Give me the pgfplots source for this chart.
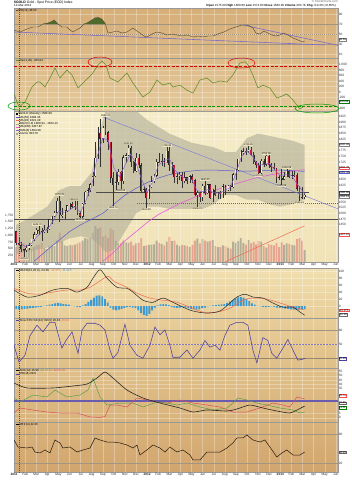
\documentclass[border=0pt]{standalone}
\usepackage{pgfplots}
\pgfplotsset{compat=1.18}
\usepackage{pgfplotstable}
\usepackage{fontspec}
\setmainfont{Liberation Sans}

\definecolor{p1top}{HTML}{D6AE78}\definecolor{p1bot}{HTML}{DCBA88}
\definecolor{p2top}{HTML}{DCBA88}\definecolor{p2bot}{HTML}{E4C89A}
\definecolor{p3top}{HTML}{F5ECC8}\definecolor{p3bot}{HTML}{F1E3B8}
\definecolor{p4top}{HTML}{F1E0B0}\definecolor{p4bot}{HTML}{E8CD98}
\definecolor{p5top}{HTML}{E8CD98}\definecolor{p5bot}{HTML}{E0BF88}
\definecolor{p6top}{HTML}{E0BF88}\definecolor{p6bot}{HTML}{D9B37C}
\definecolor{p7top}{HTML}{D9B37C}\definecolor{p7bot}{HTML}{D2A56E}
\definecolor{rsiline}{HTML}{5A4E38}\definecolor{rsigreen}{HTML}{4E6B2A}
\definecolor{trendpurple}{HTML}{7466D0}\definecolor{oscgreen}{HTML}{5E8C2A}
\definecolor{candlered}{HTML}{C41E3A}\definecolor{candlecream}{HTML}{F5ECC8}
\definecolor{bbfill}{HTML}{A9A691}\definecolor{ma50}{HTML}{5A5AD0}
\definecolor{ma200}{HTML}{E45CD8}\definecolor{ema5}{HTML}{8A62D0}
\definecolor{volgrey}{HTML}{ABA592}\definecolor{volred}{HTML}{E59A8A}
\definecolor{histblue}{HTML}{3C9AD2}\definecolor{sigred}{HTML}{EE6A50}
\definecolor{stopurple}{HTML}{4E3EA0}\definecolor{refgrey}{HTML}{A09482}
\definecolor{adxgreen}{HTML}{5E9E48}\definecolor{adxred}{HTML}{D8505C}

\newcommand{\tl}{\fontsize{3.2}{3.6}\selectfont}
\newcommand{\lgf}{\fontsize{2.9}{3.3}\selectfont}

\pgfplotstableread{
x o h l c v
0.20 1421 1424 1363 1369 560
0.43 1369 1393 1360 1360 560
0.66 1360 1376 1330 1343 620
0.89 1343 1345 1309 1338 700
1.12 1338 1360 1330 1349 520
1.35 1349 1372 1340 1360 480
1.58 1360 1390 1355 1388 500
1.81 1388 1417 1380 1409 560
2.04 1409 1437 1406 1429 640
2.27 1429 1445 1405 1421 650
2.50 1421 1437 1381 1418 720
2.73 1418 1448 1416 1428 520
2.96 1428 1440 1415 1431 480
3.19 1431 1476 1428 1474 600
3.42 1474 1490 1455 1486 620
3.65 1486 1509 1485 1504 600
3.88 1504 1569 1503 1556 800
4.11 1556 1575 1462 1491 1100
4.34 1491 1522 1480 1493 780
4.57 1493 1515 1475 1510 620
4.80 1510 1537 1508 1536 600
5.03 1536 1545 1520 1542 640
5.26 1542 1549 1525 1529 620
5.49 1529 1556 1515 1539 650
5.72 1539 1556 1495 1501 700
5.95 1501 1510 1478 1486 740
6.18 1486 1545 1482 1542 800
6.41 1542 1597 1540 1594 900
6.64 1594 1610 1576 1602 880
6.87 1602 1632 1594 1628 900
7.10 1628 1682 1620 1663 1100
7.33 1663 1815 1660 1743 1350
7.56 1743 1881 1740 1852 1250
7.79 1852 1912 1705 1828 1300
8.02 1828 1885 1810 1876 950
8.25 1876 1923 1845 1856 1000
8.48 1856 1862 1777 1813 900
8.71 1813 1815 1635 1657 1250
8.94 1657 1680 1532 1624 1200
9.17 1624 1680 1604 1636 800
9.40 1636 1695 1625 1682 700
9.63 1682 1688 1605 1642 720
9.86 1642 1758 1630 1746 800
10.09 1746 1764 1723 1755 740
10.32 1755 1802 1750 1788 720
10.55 1788 1796 1705 1725 760
10.78 1725 1730 1677 1686 620
11.01 1686 1763 1680 1745 700
11.24 1745 1761 1700 1711 720
11.47 1711 1722 1588 1598 900
11.70 1598 1620 1589 1606 600
11.93 1606 1610 1523 1566 620
12.16 1566 1625 1565 1616 640
12.39 1616 1663 1610 1640 650
12.62 1640 1675 1632 1666 660
12.85 1666 1737 1660 1726 800
13.08 1726 1765 1720 1722 720
13.31 1722 1760 1708 1728 680
13.54 1728 1745 1702 1724 620
13.77 1724 1790 1722 1774 760
14.00 1774 1791 1688 1711 940
14.23 1711 1724 1673 1713 780
14.46 1713 1714 1635 1659 800
14.69 1659 1679 1628 1662 650
14.92 1662 1680 1647 1669 600
15.15 1669 1680 1612 1641 640
15.38 1641 1680 1634 1658 620
15.61 1658 1660 1627 1642 600
15.84 1642 1668 1635 1663 560
16.07 1663 1672 1632 1645 640
16.30 1645 1650 1577 1580 800
16.53 1580 1597 1527 1591 880
16.76 1591 1595 1549 1572 700
16.99 1572 1627 1555 1622 860
17.22 1622 1640 1581 1590 800
17.45 1590 1629 1584 1627 760
17.68 1627 1628 1562 1566 780
17.91 1566 1605 1548 1604 820
18.14 1604 1625 1575 1580 600
18.37 1580 1595 1564 1590 560
18.60 1590 1597 1565 1583 560
18.83 1583 1627 1568 1619 620
19.06 1619 1623 1582 1603 600
19.29 1603 1626 1598 1620 540
19.52 1620 1625 1598 1616 500
19.75 1616 1678 1612 1672 760
19.98 1672 1693 1648 1691 720
20.21 1691 1740 1685 1739 780
20.44 1739 1777 1726 1769 900
20.67 1769 1788 1755 1773 720
20.90 1773 1787 1755 1770 650
21.13 1770 1796 1765 1780 820
21.36 1780 1790 1750 1758 700
21.59 1758 1770 1718 1724 750
21.82 1724 1730 1700 1712 660
22.05 1712 1720 1672 1676 780
22.28 1676 1737 1674 1731 760
22.51 1731 1738 1705 1714 600
22.74 1714 1754 1707 1752 540
22.97 1752 1755 1700 1712 680
23.20 1712 1723 1683 1704 640
23.43 1704 1720 1690 1697 620
23.66 1697 1698 1635 1658 720
23.89 1658 1670 1647 1655 560
24.12 1655 1694 1626 1648 740
24.35 1648 1680 1645 1662 640
24.58 1662 1694 1660 1687 700
24.81 1687 1692 1655 1658 680
25.04 1658 1685 1650 1667 640
25.27 1667 1684 1660 1670 620
25.50 1670 1676 1600 1609 860
25.73 1609 1620 1554 1573 900
25.96 1573 1618 1565 1570 800
26.19 1570 1590 1562 1582 450
}\gold

\pgfplotsset{
  panel/.style={
    scale only axis, width=324pt, xmin=0, xmax=29.2, anchor=north west,
    axis line style={draw=black!40, line width=0.35pt},
    xtick={0,...,29}, xticklabels={}, major tick length=0pt,
    grid=major, grid style={draw=white, opacity=0.3, line width=0.3pt},
    yticklabel pos=right,
    yticklabel style={font=\tl, inner sep=0.6pt, text=black!80},
    /pgf/number format/assume math mode=true,
    /pgf/number format/1000 sep={},
    every axis plot/.append style={mark=none},
  },
  months/.style={
    xticklabels={{\textbf{2011}},Feb,Mar,Apr,May,Jun,Jul,Aug,Sep,Oct,Nov,Dec,{\textbf{2012}},Feb,Mar,Apr,May,Jun,Jul,Aug,Sep,Oct,Nov,Dec,{\textbf{2013}},Feb,Mar,Apr,May,Jun},
    xticklabel style={font=\tl, inner sep=0.8pt, text=black!85},
  },
}
\newcommand{\gline}[2]{\addplot[draw=green!55!black, dash pattern=on 1pt off 1pt, line width=0.3pt] coordinates {(0.45,#1)(0.45,#2)};}

\begin{document}
\begin{tikzpicture}
\useasboundingbox (0,0) rectangle (352pt,-480pt);
\fill[white] (0,0) rectangle (352pt,-480pt);

% header
\node[anchor=north west, font=\fontsize{3.4}{4}\selectfont, inner sep=0] at (14pt,-0.6pt) {\textbf{\$GOLD} Gold - Spot Price (EOD) Index};
\node[anchor=north west, font=\fontsize{3}{3.4}\selectfont, inner sep=0] at (14pt,-4.2pt) {12-Mar-2013};
\node[anchor=north east, font=\fontsize{3}{3.4}\selectfont, inner sep=0, text=black!60] at (338pt,-0.6pt) {\copyright\ StockCharts.com};
\node[anchor=north east, font=\fontsize{3}{3.4}\selectfont, inner sep=0] at (336pt,-4.2pt) {\textbf{Open} 1575.00 \textbf{High} 1600.80 \textbf{Low} 1574.80 \textbf{Close} 1586.90 \textbf{Volume} 303.7K \textbf{Chg} +10.30 (+0.65\%)};

% ---------- Panel 1: RSI
\begin{axis}[panel, at={(14pt,-8pt)}, height=50pt, ymin=2, ymax=102, ytick={10,30,50,70,90},
  axis background/.style={top color=p1top, bottom color=p1bot}]
\addplot[draw=refgrey, line width=0.5pt] coordinates {(0,70)(29.2,70)};
\addplot[draw=refgrey, line width=0.5pt] coordinates {(0,30)(29.2,30)};
\addplot[draw=refgrey, dash pattern=on 1pt off 1pt, line width=0.3pt] coordinates {(0,50)(29.2,50)};
\addplot[fill=rsigreen, draw=none] coordinates {(2.61,70)(3.06,72)(3.42,75)(3.6,78)(3.96,70)} -- cycle;
\addplot[fill=rsigreen, draw=none] coordinates {(6.31,70)(6.58,72)(7.03,78)(7.3,82)(7.6,83)(7.9,80)(8.2,72)(8.227,70)} -- cycle;
\addplot[draw=trendpurple, line width=0.55pt] coordinates {(0,54)(28,28)};
\addplot[draw=trendpurple, line width=0.55pt] coordinates {(20.6,68)(30.3,22)};
\addplot[draw=rsiline, line width=0.45pt] coordinates {(0,58)(0.54,54)(1.17,60)(1.71,64)(2.16,64)(2.61,70)(3.06,72)(3.42,75)(3.6,78)(3.96,70)(4.32,64)(4.77,64)(5.05,58)(5.32,54)(5.59,58)(5.95,62)(6.31,70)(6.58,72)(7.03,78)(7.3,82)(7.6,83)(7.9,80)(8.2,72)(8.47,52)(8.92,54)(9.28,56)(9.73,52)(10.18,54)(10.72,62)(11.08,56)(11.35,52)(11.71,46)(11.98,44)(12.43,50)(12.88,54)(13.33,52)(13.78,48)(14.23,50)(14.68,48)(15.14,46)(15.59,48)(16.13,44)(16.58,46)(17.03,44)(17.48,46)(17.93,46)(18.38,50)(18.92,54)(19.46,60)(20.0,64)(20.54,68)(20.9,68)(21.26,66)(21.53,62)(21.8,52)(22.16,50)(22.52,56)(22.88,52)(23.24,48)(23.6,46)(23.96,48)(24.32,52)(24.68,48)(25.14,42)(25.59,38)(26.04,34)(26.2,36)};
\gline{0}{110}
\node[anchor=north west, font=\lgf, inner sep=0.6pt] at (rel axis cs:0.003,0.99) {\textcolor{rsiline}{\rule{2pt}{1.6pt}} RSI(14) 38.59};
\end{axis}

% ---------- Panel 2: oscillator
\begin{axis}[panel, at={(14pt,-58pt)}, height=53pt, ymin=-692, ymax=1238, ytick={-600,-200,0,200,400,600,800,1000},
  yticklabel style={/pgf/number format/1000 sep={,}},
  axis background/.style={top color=p2top, bottom color=p2bot}]
\addplot[draw=red!85!black, dash pattern=on 3pt off 1.5pt, line width=0.7pt] coordinates {(0,946)(29.2,946)};
\addplot[draw=green!60!black, dash pattern=on 3pt off 1.5pt, line width=0.7pt] coordinates {(0,-510)(29.2,-510)};
\addplot[draw=oscgreen, line width=0.55pt] coordinates {(0,-73)(0.45,-546)(0.99,-364)(1.62,182)(2.07,364)(2.34,364)(2.79,182)(3.24,510)(3.69,874)(4.14,510)(4.77,800)(5.23,619)(5.77,146)(6.40,400)(7.03,655)(7.57,983)(7.93,1128)(8.29,983)(8.65,510)(9.37,364)(10.18,692)(10.72,328)(11.62,-182)(12.25,0)(12.88,437)(13.42,250)(14.05,328)(14.32,180)(14.95,250)(15.59,70)(16.13,-40)(16.76,437)(17.39,510)(17.93,328)(18.56,400)(19.19,364)(19.73,619)(20.36,1056)(20.81,1100)(21.08,1000)(21.53,619)(21.98,146)(22.43,250)(23.06,146)(23.69,-218)(24.14,-150)(24.59,-73)(25.14,-291)(25.77,-619)(26.2,-510)};
\gline{-700}{1300}
\node[anchor=north west, font=\lgf, inner sep=0.6pt] at (rel axis cs:0.003,0.99) {\textcolor{oscgreen}{\rule[0.5pt]{3pt}{0.5pt}} Osc(1,20) -335.64};
\end{axis}

% ---------- Panel 3: volume (background)
\begin{axis}[panel, at={(14pt,-111pt)}, height=151pt, ymin=0, ymax=5662, grid=none,
  yticklabel pos=left, ytick={250,500,...,1750},
  yticklabel style={/pgf/number format/1000 sep={,}},
  axis line style={draw=none},
  axis background/.style={top color=p3top, bottom color=p3bot}]
\addplot[ybar, bar width=0.17, bar shift=0pt, fill=volgrey, draw=none, fill opacity=0.85] table[x=x, y expr={\thisrow{c}>=\thisrow{o} ? \thisrow{v} : 0}]{\gold};
\addplot[ybar, bar width=0.17, bar shift=0pt, fill=volred, draw=none, fill opacity=0.85] table[x=x, y expr={\thisrow{c}<\thisrow{o} ? \thisrow{v} : 0}]{\gold};
\end{axis}

% ---------- Panel 3: price
\begin{axis}[panel, months, at={(14pt,-111pt)}, height=151pt, ymin=1287, ymax=1949,
  ytick={1450,1475,1500,1525,1550,1625,1650,1725,1750,1775,1825,1850,1875,1900,1925},
  colormap={cndl}{color(0cm)=(candlered) color(1cm)=(candlecream)}]
\addplot[fill=bbfill, fill opacity=0.55, draw=none] coordinates {(0.2,1450)(1,1470)(2,1500)(3,1530)(4,1600)(5,1620)(6,1620)(7,1680)(7.7,1850)(8.3,1960)(9,1990)(10,1970)(11,1950)(12,1910)(13,1880)(14,1850)(15,1830)(16,1810)(17,1800)(18,1790)(19,1770)(20,1770)(21,1830)(22,1850)(23,1840)(24,1830)(25,1820)(26.2,1800)
(26.2,1560)(25,1540)(24,1530)(23,1540)(22,1560)(21,1560)(20,1580)(19,1580)(18,1540)(17,1520)(16,1520)(15,1520)(14,1520)(13,1530)(12,1530)(11,1500)(10,1420)(9,1340)(8.3,1330)(7.7,1360)(7,1390)(6,1400)(5,1390)(4,1370)(3,1350)(2,1340)(1,1330)(0.2,1320)} -- cycle;
\addplot[draw=black!70, line width=0.8pt] coordinates {(0,1472)(29.2,1472)};
\addplot[draw=black!70, line width=0.55pt] coordinates {(7.4,1592)(26.6,1592)};
\addplot[draw=ma50, dash pattern=on 1pt off 1pt, line width=0.4pt] coordinates {(11.1,1547)(29.2,1547)};
\addplot[draw=ma50!80, line width=0.45pt] coordinates {(8.0,1923)(29.2,1520)};
\addplot[draw=ma50, line width=0.5pt] coordinates {(1.8,1290)(3,1340)(4,1380)(5,1420)(6,1450)(7,1475)(8,1500)(9,1540)(10,1580)(11,1610)(12,1635)(13,1655)(14,1670)(15,1680)(16,1686)(17,1690)(18,1690)(19,1688)(20,1686)(21,1685)(22,1687)(23,1689)(24,1690)(25,1688)(26.2,1684)};
\addplot[draw=ma200, line width=0.6pt] coordinates {(8.0,1290)(9,1330)(10,1380)(11,1420)(12,1460)(13,1495)(14,1520)(15,1545)(16,1565)(17,1585)(18,1600)(19,1615)(20,1630)(21,1645)(22,1658)(23,1668)(24,1677)(25,1685)(26.2,1692)};
\addplot[draw=sigred, line width=0.5pt] coordinates {(19.0,1287)(26.2,1446)};
% candles
\addplot[quiver={u=0, v=\thisrow{h}-\thisrow{l}}, draw=black!80, line width=0.35pt] table[x=x, y=l]{\gold};
\addplot[quiver={u=0, v=\thisrow{c}-\thisrow{o}}, draw=black!85, line width=1.9pt] table[x=x, y=o]{\gold};
\addplot[quiver={u=0, v=\thisrow{c}-\thisrow{o}, colored=mapped color, every arrow/.append style={shorten <=0.35pt, shorten >=0.35pt}},
  point meta=explicit, point meta min=0, point meta max=1, line width=1.1pt] table[x=x, y=o, meta expr={\thisrow{c}>=\thisrow{o}}]{\gold};
\addplot[draw=ema5, line width=0.5pt] coordinates {(0.5,1375)(1.0,1355)(1.5,1365)(2.0,1395)(2.5,1418)(3.0,1428)(3.5,1465)(4.0,1510)(4.5,1505)(5.0,1515)(5.5,1530)(6.0,1505)(6.5,1560)(7.0,1620)(7.5,1750)(8.0,1830)(8.5,1820)(9.0,1700)(9.5,1660)(10.0,1710)(10.5,1760)(11.0,1720)(11.5,1650)(12.0,1590)(12.5,1640)(13.0,1710)(13.5,1730)(14.0,1740)(14.5,1690)(15.0,1665)(15.5,1652)(16.0,1650)(16.5,1600)(17.0,1595)(17.5,1605)(18.0,1590)(18.5,1588)(19.0,1600)(19.5,1615)(20.0,1675)(20.5,1750)(21.0,1775)(21.5,1750)(22.0,1710)(22.5,1715)(23.0,1720)(23.5,1690)(24.0,1665)(24.5,1670)(25.0,1667)(25.5,1630)(26.2,1585)};
\gline{1280}{1960}
% value labels
\begin{scope}[every node/.style={font=\fontsize{2.5}{3}\selectfont, inner sep=0.3pt, fill=p3top, fill opacity=0.8, text opacity=1}]
\node[above] at (axis cs:8.25,1923) {1923.70};
\node[above] at (axis cs:4.11,1575) {1575.79};
\node[below] at (axis cs:0.89,1309) {1309.00};
\node[above] at (axis cs:2.10,1445) {1445.70};
\node[below] at (axis cs:5.95,1478) {1478.30};
\node[above] at (axis cs:5.40,1556) {1556.00};
\node[below] at (axis cs:8.94,1532) {1532.70};
\node[above] at (axis cs:10.32,1802) {1802.80};
\node[below] at (axis cs:9.63,1605) {1605.00};
\node[below] at (axis cs:11.93,1523) {1523.90};
\node[above] at (axis cs:13.77,1791) {1790.95};
\node[below] at (axis cs:16.53,1527) {1526.70};
\node[above] at (axis cs:17.22,1640) {1640.00};
\node[above] at (axis cs:21.13,1796) {1795.95};
\node[above] at (axis cs:22.74,1754) {1754.58};
\node[below] at (axis cs:22.05,1672) {1672.40};
\node[above] at (axis cs:24.58,1694) {1694.48};
\node[below] at (axis cs:24.12,1626) {1625.89};
\node[below] at (axis cs:25.73,1554) {1554.41};
\end{scope}
\node[anchor=north west, font=\lgf, inner sep=0.6pt, align=left] at (rel axis cs:0.003,0.995) {%
\textcolor{black}{\rule{2pt}{1.6pt}} \$GOLD (Weekly) 1586.90\\
\textcolor{ma50}{\rule[0.5pt]{3pt}{0.5pt}} MA(50) 1683.46\\
\textcolor{sigred}{\rule[0.5pt]{3pt}{0.5pt}} MA(20) 1621.40\\
\textcolor{bbfill}{\rule[0.5pt]{3pt}{0.5pt}} BB(20,2.0) 1800.94 - 1564.13\\
\textcolor{ma200}{\rule[0.5pt]{3pt}{0.5pt}} MA(200) 1407.87\\
\textcolor{ema5}{\rule[0.5pt]{3pt}{0.5pt}} EMA(5) 1594.38\\
\textcolor{volgrey}{\rule{2pt}{1.6pt}} Volume 303.7K};
\end{axis}

% ---------- Panel 4: MACD
\begin{axis}[panel, at={(14pt,-268pt)}, height=50pt, ymin=-34, ymax=109, ytick={0,20,...,100},
  axis background/.style={top color=p4top, bottom color=p4bot}]
\addplot[ybar, bar width=0.17, bar shift=0pt, fill=histblue, draw=none] coordinates {(0.20,-8)(0.45,-9)(0.70,-9)(0.95,-8)(1.20,-7)(1.45,-6)(1.70,-5)(1.95,-4)(2.20,-3)(2.45,-2)(2.70,1)(2.95,2)(3.20,4)(3.45,6)(3.70,8)(3.95,9)(4.20,8)(4.45,6)(4.70,5)(4.95,4)(5.20,1)(5.45,-1)(5.70,-3)(5.95,-3)(6.20,2)(6.45,6)(6.70,12)(6.95,18)(7.20,24)(7.45,30)(7.70,31)(7.95,28)(8.20,20)(8.45,10)(8.70,-4)(8.95,-10)(9.20,-12)(9.45,-10)(9.70,-8)(9.95,-5)(10.20,-3)(10.45,-2)(10.70,-4)(10.95,-6)(11.20,-12)(11.45,-20)(11.70,-25)(11.95,-28)(12.20,-22)(12.45,-12)(12.70,-4)(12.95,2)(13.20,5)(13.45,6)(13.70,5)(13.95,3)(14.20,-2)(14.45,-4)(14.70,-5)(14.95,-4)(15.20,-3)(15.45,-4)(15.70,-6)(15.95,-8)(16.20,-9)(16.45,-10)(16.70,-9)(16.95,-6)(17.20,-4)(17.45,-1)(17.70,1)(17.95,2)(18.20,3)(18.45,4)(18.70,5)(18.95,6)(19.20,9)(19.45,13)(19.70,18)(19.95,22)(20.20,25)(20.45,26)(20.70,24)(20.95,20)(21.20,14)(21.45,8)(21.70,4)(21.95,1)(22.20,-1)(22.45,-2)(22.70,-3)(22.95,-2)(23.20,-1)(23.45,-2)(23.70,-4)(23.95,-5)(24.20,-6)(24.45,-7)(24.70,-8)(24.95,-9)(25.20,-10)(25.45,-11)(25.70,-10)(25.95,-9)(26.20,-8)};
\addplot[draw=sigred, line width=0.5pt, smooth, tension=0.5] coordinates {(0,51)(1.17,37)(2.34,34)(3.51,40)(4.77,46)(5.95,46)(6.85,54)(7.75,72)(8.47,85)(9.1,69)(10.18,54)(11.08,37)(12.25,23)(13.42,17)(14.68,11)(15.86,-3)(17.03,-17)(18.29,-17)(19.46,-6)(20.63,17)(21.53,23)(22.79,20)(23.96,9)(25.14,-3)(26.2,-11)};
\addplot[draw=black!85, line width=0.5pt, smooth, tension=0.5] coordinates {(0,46)(1.17,26)(2.34,31)(3.51,46)(4.77,51)(5.68,40)(6.58,54)(7.12,80)(7.75,104)(8.38,80)(9.28,54)(10.18,51)(10.72,40)(11.62,17)(12.52,11)(13.42,23)(14.32,11)(15.23,-3)(16.13,-14)(17.39,-20)(18.56,-14)(19.46,9)(20.09,26)(20.81,34)(21.53,26)(22.43,23)(23.33,9)(24.23,-3)(25.14,-3)(25.77,-17)(26.2,-26)};
\gline{-40}{115}
\node[anchor=north west, font=\lgf, inner sep=0.6pt] at (rel axis cs:0.003,0.99) {\textcolor{black}{\rule[0.5pt]{3pt}{0.5pt}} MACD(12,26,9) -24.30, \textcolor{sigred}{-13.375}, \textcolor{histblue}{-11.123}};
\end{axis}

% ---------- Panel 5: Slow STO
\begin{axis}[panel, at={(14pt,-318pt)}, height=50pt, ymin=0.5, ymax=105, ytick={50,80},
  axis background/.style={top color=p5top, bottom color=p5bot}]
\addplot[draw=refgrey, line width=0.5pt] coordinates {(0,80)(29.2,80)};
\addplot[draw=stopurple!70, dash pattern=on 2pt off 1pt, line width=0.4pt] coordinates {(0,50)(29.2,50)};
\addplot[draw=black!25!refgrey, line width=1.5pt, opacity=0.7] coordinates {(0,20)(29.2,20)};
\addplot[draw=stopurple, line width=0.55pt] coordinates {(0,48)(0.45,13)(0.99,27)(1.44,68)(2.07,90)(2.61,76)(3.24,96)(3.69,96)(4.32,42)(4.68,58)(5.23,76)(5.77,31)(6.13,80)(6.58,94)(7.30,94)(7.75,90)(8.20,80)(8.65,38)(8.92,21)(9.37,33)(10.0,92)(10.45,48)(11.08,27)(11.62,21)(12.25,48)(12.7,86)(13.15,70)(13.6,80)(14.05,48)(14.32,23)(14.95,23)(15.59,38)(16.13,21)(16.76,38)(17.21,58)(17.66,44)(18.11,48)(18.56,38)(19.0,68)(19.46,90)(20.09,96)(20.63,96)(21.08,90)(21.53,38)(21.89,11)(22.43,64)(22.88,58)(23.24,31)(23.69,21)(24.23,42)(24.68,60)(25.14,38)(25.59,17)(26.04,19)(26.25,21)};
\gline{0}{110}
\node[anchor=north west, font=\lgf, inner sep=0.6pt] at (rel axis cs:0.003,0.99) {\textcolor{stopurple}{\rule[0.5pt]{3pt}{0.5pt}} Slow STO \%K(14) \%D(3) 20.46, \textcolor{sigred}{20.49}};
\end{axis}

% ---------- Panel 6: ADX
\begin{axis}[panel, at={(14pt,-368pt)}, height=54pt, ymin=-5, ymax=59.3, ytick={0,5,35,40,45,50,55},
  axis background/.style={top color=p6top, bottom color=p6bot}]
\addplot[draw=stopurple!85, line width=1.6pt] coordinates {(0,20)(29.2,20)};
\addplot[draw=adxred, line width=0.5pt] coordinates {(0,5.7)(0.54,11.7)(1.71,9.3)(2.97,6.9)(4.14,5.7)(5.68,5.7)(6.85,1.0)(7.75,0.5)(8.2,1.5)(8.65,15.2)(9.28,15.2)(10.18,12.9)(11.08,23.6)(11.98,21.2)(12.88,18.8)(13.78,17.6)(14.95,21.2)(16.13,17.6)(17.39,15.2)(18.56,12.9)(19.73,6.9)(20.99,6.9)(22.16,11.7)(23.33,17.6)(24.23,15.2)(24.86,12.9)(25.5,24.8)(26.2,22.4)};
\addplot[draw=adxgreen, line width=0.5pt] coordinates {(0,23.6)(0.54,18.8)(1.71,27.1)(2.97,24.8)(3.69,33.1)(4.77,24.8)(5.95,27.1)(6.67,33.1)(7.12,47.4)(7.75,24.8)(8.38,15.2)(9.55,17.6)(10.72,17.6)(11.62,12.9)(12.88,18.8)(13.78,17.6)(14.68,15.2)(15.59,17.6)(16.76,12.9)(17.93,9.3)(19.19,11.7)(19.73,17.6)(20.18,23.6)(20.99,21.2)(21.89,17.6)(22.79,15.2)(23.96,11.7)(25.14,9.3)(25.77,5.7)(26.2,6.9)};
\addplot[draw=black!85, line width=0.6pt, smooth, tension=0.4] coordinates {(0,41.4)(1.17,35.5)(3.51,35.5)(5.32,37.9)(6.58,40.2)(7.48,47.4)(8.2,54.5)(8.92,47.4)(10.18,33.1)(11.62,23.6)(13.15,17.6)(14.95,11.7)(16.13,6.9)(17.39,9.3)(19.19,8.1)(20.09,10.5)(21.26,15.2)(22.43,11.7)(23.69,8.1)(24.86,5.7)(25.5,9.3)(26.2,14.0)};
\gline{-6}{62}
\node[anchor=north west, font=\lgf, inner sep=0.6pt, align=left] at (rel axis cs:0.003,0.99) {\textcolor{black}{\rule[0.5pt]{3pt}{0.5pt}} ADX(14) 15.90 \textcolor{adxgreen}{+DI 13.11} \textcolor{adxred}{-DI 26.74}\\ \textcolor{stopurple}{\rule[0.5pt]{3pt}{0.5pt}} RSI(14) 20.0};
\end{axis}

% ---------- Panel 7
\begin{axis}[panel, months, at={(14pt,-422pt)}, height=50pt, ymin=1.3, ymax=104.8, ytick={20,80},
  axis background/.style={top color=p7top, bottom color=p7bot}]
\addplot[draw=refgrey, line width=0.5pt] coordinates {(0,80)(29.2,80)};
\addplot[draw=refgrey, line width=0.5pt] coordinates {(0,20)(29.2,20)};
\addplot[draw=black!80!brown, line width=0.5pt] coordinates {(0,67.6)(0.36,53.1)(1.17,51.0)(1.62,53.1)(1.89,42.7)(2.34,40.7)(2.79,46.9)(3.24,40.7)(3.69,67.6)(4.14,61.4)(4.41,51.0)(5.05,53.1)(5.68,42.7)(6.22,46.9)(6.85,51.0)(7.30,71.7)(7.75,67.6)(8.38,63.4)(8.92,63.4)(9.55,61.4)(10.18,57.2)(10.72,51.0)(11.08,57.2)(11.35,36.5)(11.98,46.9)(12.52,57.2)(13.15,51.0)(13.6,42.7)(14.05,53.1)(14.68,42.7)(15.23,46.9)(15.86,36.5)(16.13,26.2)(16.76,26.2)(17.39,42.7)(17.93,42.7)(18.56,42.7)(19.19,51.0)(19.73,61.4)(20.09,71.7)(20.63,71.7)(20.99,77.9)(21.53,67.6)(22.16,63.4)(22.61,67.6)(23.06,53.1)(23.69,32.4)(24.14,40.7)(24.59,46.9)(25.14,36.5)(25.77,36.5)(26.2,42.7)};
\gline{0}{110}
\node[anchor=north west, font=\lgf, inner sep=0.6pt] at (rel axis cs:0.003,0.99) {\textcolor{black}{\rule[0.5pt]{3pt}{0.5pt}} MFI(14) 42.26};
\end{axis}

% annotation ellipses
\draw[red!85!black, line width=0.5pt] (100pt,-62pt) ellipse [x radius=12pt, y radius=5pt];
\draw[red!85!black, line width=0.5pt] (241.5pt,-63pt) ellipse [x radius=13.5pt, y radius=5pt];
\draw[green!60!black, line width=0.5pt] (19pt,-106pt) ellipse [x radius=11pt, y radius=4pt];
\draw[green!60!black, line width=0.5pt] (317pt,-108.5pt) ellipse [x radius=22pt, y radius=4.5pt];

% boxed current values at right
\begin{scope}[every node/.style={font=\fontsize{2.8}{3}\selectfont, inner sep=0.4pt, draw, fill=white, anchor=west, line width=0.2pt}]
\node[draw=black!50] at (338.5pt,-39.7pt) {38.59};
\node[draw=green!50!black] at (338.5pt,-101.8pt) {-335.64};
\node[draw=black!50] at (338.5pt,-144.8pt) {1800.94};
\node[draw=red!70] at (338.5pt,-168.0pt) {1692.78};
\node[draw=ma50] at (338.5pt,-172.2pt) {1683.46};
\node[draw=black!70] at (338.5pt,-192.4pt) {1586.90};
\node[draw=black!50] at (338.5pt,-196.8pt) {1564.13};
\node[draw=red!70] at (338.5pt,-234.4pt) {1407.87};
\node[draw=red!70] at (338.5pt,-310.2pt) {-13.375};
\node[draw=black!60] at (338.5pt,-314.4pt) {-24.30};
\node[draw=stopurple] at (338.5pt,-358.4pt) {20.46};
\node[draw=red!70] at (338.5pt,-395.5pt) {26.74};
\node[draw=black!60] at (338.5pt,-403.0pt) {15.90};
\node[draw=green!50!black] at (338.5pt,-407.3pt) {13.11};
\node[draw=black!60] at (338.5pt,-452.2pt) {42.26};
\end{scope}
\end{tikzpicture}
\end{document}
